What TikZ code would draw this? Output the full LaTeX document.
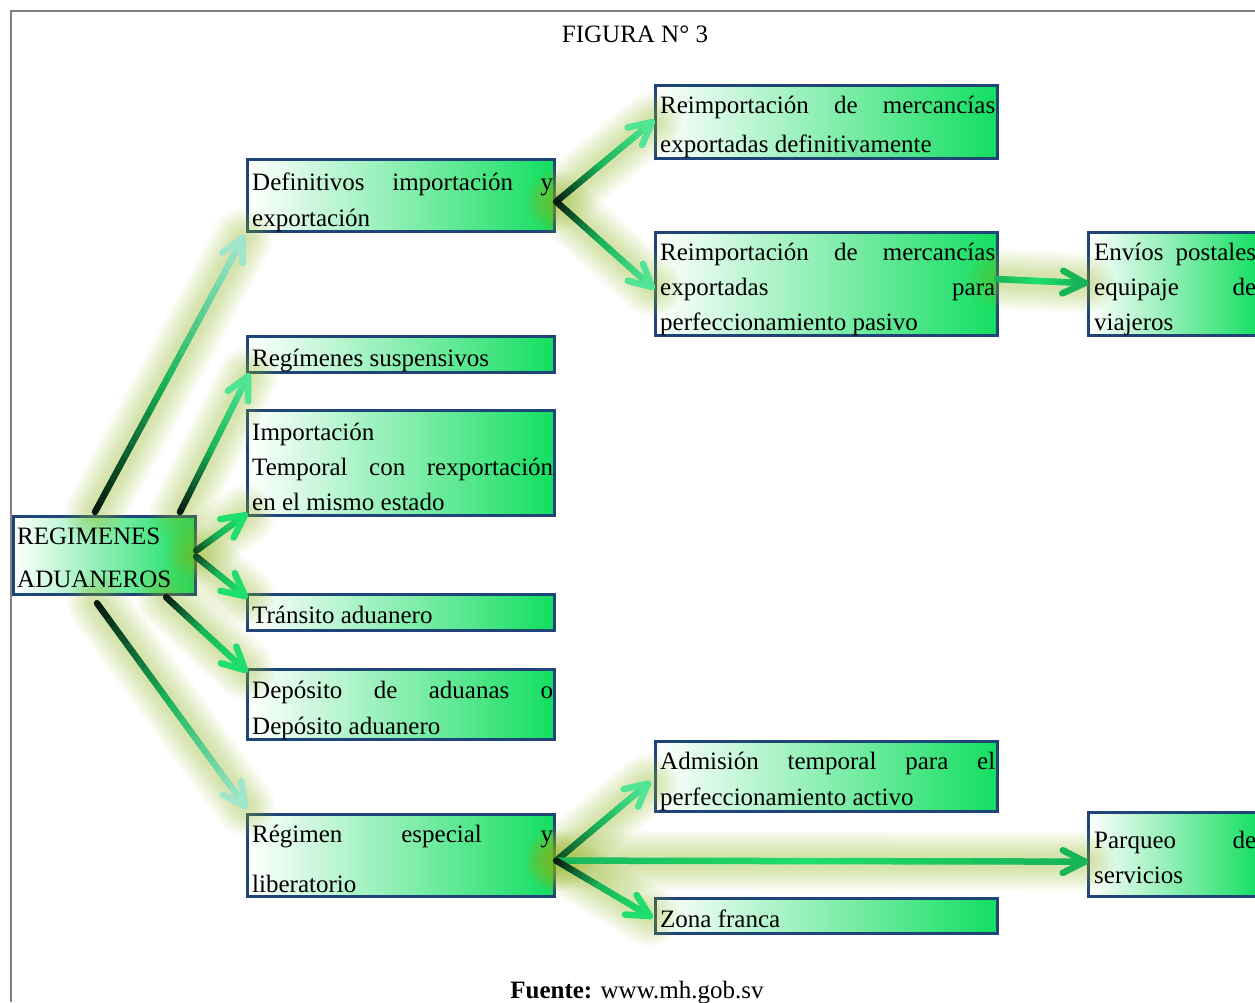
\documentclass[tikz,border=0pt]{standalone}
\usepackage{fontspec}
\setmainfont{Liberation Serif}
\usetikzlibrary{calc}
\tolerance=10000
\hyphenpenalty=10000
\exhyphenpenalty=10000

\definecolor{boxblue}{RGB}{31,68,120}
\definecolor{boxgreen}{RGB}{18,222,96}
\definecolor{framegray}{RGB}{128,128,128}
\definecolor{glowcol}{RGB}{150,186,32}
\definecolor{ablack}{RGB}{4,14,8}
\definecolor{adark}{RGB}{14,60,26}
\definecolor{amid}{RGB}{24,180,88}
\definecolor{agreen}{RGB}{30,222,110}
\definecolor{alight}{RGB}{80,228,148}
\definecolor{amint}{RGB}{160,230,205}

\newcommand{\bodyfont}[1]{\fontsize{25}{#1}\selectfont}

\tikzset{
  gbox/.style={draw=boxblue, line width=3.2pt, left color=white, right color=boxgreen,
               anchor=north west, inner sep=0pt},
  btext/.style={anchor=north west, inner sep=0pt, align=justify, text width=#1},
  aline/.style={line width=6.5pt, line cap=round, line join=round},
}

\begin{document}
\begin{tikzpicture}[x=1pt, y=-1pt]
\useasboundingbox (0,0) rectangle (1255,1002);
\clip (0,0) rectangle (1255,1002);
\fill[white] (0,0) rectangle (1255,1002);

% outer frame
\draw[framegray, line width=2pt] (11,1002) -- (11,11) -- (1255,11);

% title and source
\node[anchor=base, inner sep=0pt, font={\bodyfont{30}}] (title) at (635,42) {FIGURA N° 3};
\node[anchor=base, inner sep=0pt, font={\bodyfont{30}}] (src) at (637,998) {\textbf{Fuente:} www.mh.gob.sv};

% boxes
\node[gbox, minimum width=182pt, minimum height=78pt]  (reg) at (12,515) {};
\node[gbox, minimum width=307pt, minimum height=72pt]  (def) at (246,158) {};
\node[gbox, minimum width=307pt, minimum height=36pt]  (sus) at (246,335) {};
\node[gbox, minimum width=307pt, minimum height=105pt] (imp) at (246,409) {};
\node[gbox, minimum width=307pt, minimum height=36pt]  (tra) at (246,593) {};
\node[gbox, minimum width=307pt, minimum height=70pt]  (dep) at (246,668) {};
\node[gbox, minimum width=307pt, minimum height=82pt]  (rgm) at (246,813) {};
\node[gbox, minimum width=342pt, minimum height=73pt]  (re1) at (654,84) {};
\node[gbox, minimum width=342pt, minimum height=103pt] (re2) at (654,231) {};
\node[gbox, minimum width=172pt, minimum height=103pt] (env) at (1087,231) {};
\node[gbox, minimum width=342pt, minimum height=70pt]  (adm) at (654,740) {};
\node[gbox, minimum width=172pt, minimum height=84pt]  (prq) at (1087,811) {};
\node[gbox, minimum width=342pt, minimum height=35pt]  (zon) at (654,897) {};

% connector end points
\coordinate (s1) at ([shift={(83,-3)}]reg.north west);
\coordinate (e1) at ([shift={(-3,5)}]def.south west);
\coordinate (s2) at ([shift={(168,-3)}]reg.north west);
\coordinate (e2) at ([shift={(2,2)}]sus.south west);
\coordinate (s3) at ([shift={(-1,-5)}]reg.east);
\coordinate (e3) at ([shift={(-1,-2)}]imp.south west);
\coordinate (s4) at ([shift={(-1,1)}]reg.east);
\coordinate (e4) at ([shift={(-1,3)}]tra.north west);
\coordinate (s5) at ([shift={(-31,1)}]reg.south east);
\coordinate (e5) at ([shift={(-1,2)}]dep.north west);
\coordinate (s6) at ([shift={(85,7)}]reg.south west);
\coordinate (e6) at ([shift={(-1,-7)}]rgm.north west);
\coordinate (s7) at ([shift={(0,6)}]def.east);
\coordinate (e7) at ([shift={(-2,0)}]re1.west);
\coordinate (e8) at ([shift={(-2,3)}]re2.west);
\coordinate (s9) at ([shift={(-2,-5)}]re2.east);
\coordinate (e9) at ([shift={(-2,-1)}]env.west);
\coordinate (s10) at ([shift={(0,5)}]rgm.east);
\coordinate (e10) at ([shift={(-6,7)}]adm.west);
\coordinate (e11) at ([shift={(-2,7)}]prq.west);
\coordinate (e12) at ([shift={(-4,0)}]zon.west);

\def\arrowlist{s1/e1/ablack/amid/amint, s2/e2/ablack/amid/alight,
  s3/e3/adark/amid/agreen, s4/e4/adark/amid/agreen, s5/e5/ablack/amid/agreen,
  s6/e6/ablack/amid/amint, s7/e7/ablack/amid/alight, s7/e8/ablack/amid/alight,
  s9/e9/amid/agreen/amid, s10/e10/adark/amid/alight, s10/e11/amid/agreen/amid,
  s10/e12/ablack/amid/agreen}

% soft glow under the connectors
\foreach \f/\t/\ca/\cb/\cc in \arrowlist {
  \foreach \gw in {60,55,...,15}
    \draw[glowcol, line width=\gw pt, line cap=round, opacity=0.045] (\f) -- (\t);
}

% connectors with colour running along them
\foreach \f/\t/\ca/\cb/\cc in \arrowlist {
  \foreach \k in {1,...,24} {
    \pgfmathsetmacro{\gA}{(\k-1)/24}
    \pgfmathsetmacro{\gB}{\k/24}
    \ifnum\k>12
      \pgfmathtruncatemacro{\gP}{100*(\k-12)/12}
      \colorlet{segcol}{\cc!\gP!\cb}
    \else
      \pgfmathtruncatemacro{\gP}{100*\k/12}
      \colorlet{segcol}{\cb!\gP!\ca}
    \fi
    \draw[segcol, aline] ($(\f)!\gA!(\t)$) -- ($(\f)!\gB!(\t)$);
  }
  \draw[\cc, aline] ($(\t)!25pt!27:(\f)$) -- (\t) -- ($(\t)!25pt!-27:(\f)$);
}

% box texts
\node[btext=176pt, font={\bodyfont{43}}] (regt) at ([xshift=5pt]reg.north west)
  {\rule{0pt}{29pt}REGIMENES\\ADUANEROS};
\node[btext=301pt, font={\bodyfont{36}}] (deft) at ([xshift=6pt]def.north west)
  {\rule{0pt}{32pt}Definitivos importación y exportación};
\node[btext=301pt, font={\bodyfont{36}}] (sust) at ([xshift=6pt]sus.north west)
  {\rule{0pt}{31pt}Regímenes suspensivos};
\node[btext=301pt, font={\bodyfont{35}}] (impt) at ([xshift=6pt]imp.north west)
  {\rule{0pt}{31pt}Importación\\ Temporal con rexportación\linebreak en el mismo estado};
\node[btext=301pt, font={\bodyfont{36}}] (trat) at ([xshift=6pt]tra.north west)
  {\rule{0pt}{30pt}Tránsito aduanero};
\node[btext=301pt, font={\bodyfont{36}}] (dept) at ([xshift=6pt]dep.north west)
  {\rule{0pt}{30pt}Depósito de aduanas o Depósito aduanero};
\node[btext=301pt, font={\bodyfont{50}}] (rgmt) at ([xshift=6pt]rgm.north west)
  {\rule{0pt}{29pt}Régimen especial y\linebreak liberatorio};
\node[btext=335pt, font={\bodyfont{39}}] (re1t) at ([xshift=6pt]re1.north west)
  {\rule{0pt}{29pt}Reimportación de mercancías exportadas definitivamente};
\node[btext=335pt, font={\bodyfont{35}}] (re2t) at ([xshift=6pt]re2.north west)
  {\rule{0pt}{29pt}Reimportación de mercancías exportadas para\linebreak perfeccionamiento pasivo};
\node[btext=162pt, font={\bodyfont{35}}] (envt) at ([xshift=7pt]env.north west)
  {\rule{0pt}{29pt}Envíos postales equipaje de viajeros};
\node[btext=335pt, font={\bodyfont{36}}] (admt) at ([xshift=6pt]adm.north west)
  {\rule{0pt}{29pt}Admisión temporal para el perfeccionamiento activo};
\node[btext=162pt, font={\bodyfont{35}}] (prqt) at ([xshift=7pt]prq.north west)
  {\rule{0pt}{37pt}Parqueo de servicios};
\node[btext=335pt, font={\bodyfont{36}}] (zont) at ([xshift=6pt]zon.north west)
  {\rule{0pt}{30pt}Zona franca};
\end{tikzpicture}
\end{document}
